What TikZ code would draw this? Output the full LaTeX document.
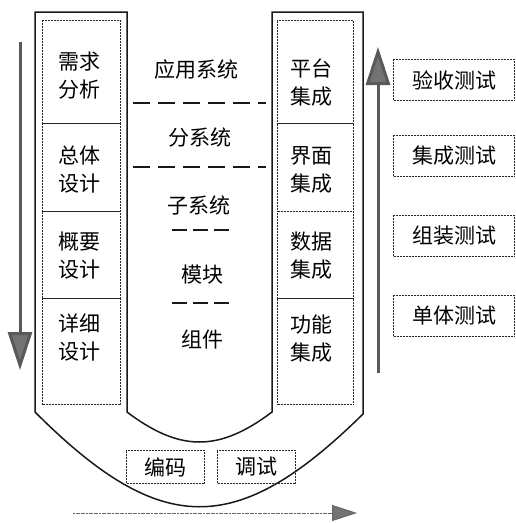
\documentclass[tikz,border=0pt]{standalone}
\usepackage{fontspec}
\newfontfamily\cjk{Noto Sans CJK SC}
\usetikzlibrary{arrows.meta}
\begin{document}
\begin{tikzpicture}[x=1pt,y=-1pt,
  txt/.style={font=\cjk\fontsize{21}{28}\selectfont, align=center, inner sep=0pt, text=black},
  frame/.style={draw=black!90, line width=1.5pt},
  phasebox/.style={draw=black!85, line width=1pt, dash pattern=on 2pt off 1pt, minimum width=78pt, inner sep=0pt, anchor=north west},
  intbox/.style={phasebox, minimum width=76pt},
  testbox/.style={draw=black!85, line width=1pt, dash pattern=on 2pt off 1pt, minimum width=121pt, minimum height=41pt, inner sep=0pt, anchor=north west, font=\cjk\fontsize{21}{25}\selectfont, text=black},
  codebox/.style={testbox, minimum width=78pt, minimum height=33pt},
  levelsep/.style={draw=black!90, line width=2.5pt, dash pattern=on 17pt off 8pt},
  shortsep/.style={draw=black!90, line width=2.5pt, dash pattern=on 15pt off 6pt},
  bigarrow/.style={draw=black!65, line width=3pt, -{Triangle[length=38pt,width=24pt,fill=black!55]}},
  smallarrow/.style={draw=black!60, line width=1pt, dash pattern=on 2pt off 0.6pt, -{Triangle[length=25pt,width=16pt,fill=black!55]}}
]
\useasboundingbox (0,0) rectangle (515,523);

% outer U frame
\coordinate (LTL) at (35,12);
\coordinate (LTR) at (127,12);
\coordinate (LBL) at (35,412);
\coordinate (LBR) at (127,412);
\coordinate (RTL) at (272,12);
\coordinate (RTR) at (363,12);
\coordinate (RBL) at (272,412);
\coordinate (RBR) at (363,414);
\draw[frame] (LBL) -- (LTL) -- (LTR) -- (LBR)
  .. controls (180,452) and (219,452) .. (RBL) -- (RTL) -- (RTR) -- (RBR)
  .. controls (237,538) and (161,538) .. (LBL);

% left phase boxes
\node[phasebox, minimum height=103pt] (p1) at (42,20) {};
\node[phasebox, minimum height=88pt] (p2) at (42,123) {};
\node[phasebox, minimum height=87pt] (p3) at (42,211) {};
\node[phasebox, minimum height=106pt] (p4) at (42,298) {};
\node[txt] (t1) at (80,76) {需求\\分析};
\node[txt] (t2) at (80,170) {总体\\设计};
\node[txt] (t3) at (80,256) {概要\\设计};
\node[txt] (t4) at (80,338) {详细\\设计};

% right integration boxes
\node[intbox, minimum height=103pt] (i1) at (277,20) {};
\node[intbox, minimum height=88pt] (i2) at (277,123) {};
\node[intbox, minimum height=87pt] (i3) at (277,211) {};
\node[intbox, minimum height=106pt] (i4) at (277,298) {};
\node[txt] (u1) at (311,83) {平台\\集成};
\node[txt] (u2) at (311,170) {界面\\集成};
\node[txt] (u3) at (311,256) {数据\\集成};
\node[txt] (u4) at (311,339) {功能\\集成};

% middle levels
\node[txt] (m1) at (196,70) {应用系统};
\node[txt] (m2) at (200,138) {分系统};
\node[txt] (m3) at (199,205) {子系统};
\node[txt] (m4) at (202,275) {模块};
\node[txt] (m5) at (202,340) {组件};
\coordinate (d1a) at (133,103); \coordinate (d1b) at (266,103);
\coordinate (d2a) at (133,167); \coordinate (d2b) at (266,167);
\coordinate (d3a) at (172,230); \coordinate (d3b) at (229,230);
\coordinate (d4a) at (172,303); \coordinate (d4b) at (229,303);
\draw[levelsep] (d1a) -- (d1b);
\draw[levelsep] (d2a) -- (d2b);
\draw[shortsep] (d3a) -- (d3b);
\draw[shortsep] (d4a) -- (d4b);

% test boxes
\node[testbox] (s1) at (393,59) {验收测试};
\node[testbox] (s2) at (393,135) {集成测试};
\node[testbox] (s3) at (393,215) {组装测试};
\node[testbox] (s4) at (393,295) {单体测试};

% coding / debugging
\node[codebox] (c1) at (126,450) {编码};
\node[codebox] (c2) at (217,450) {调试};

% arrows
\coordinate (la1) at (20,42);  \coordinate (la2) at (20,370);
\coordinate (ra1) at (378,373); \coordinate (ra2) at (378,47);
\coordinate (ba1) at (73,513); \coordinate (ba2) at (357,513);
\draw[bigarrow] (la1) -- (la2);
\draw[bigarrow] (ra1) -- (ra2);
\draw[smallarrow] (ba1) -- (ba2);
\end{tikzpicture}
\end{document}
